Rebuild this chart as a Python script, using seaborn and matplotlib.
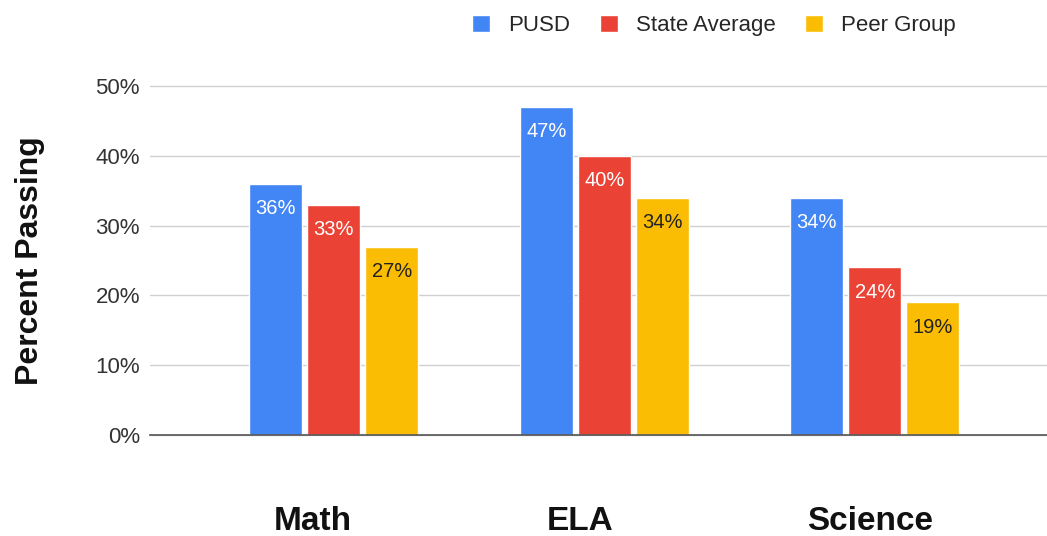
import matplotlib.pyplot as plt
import matplotlib.transforms as mtransforms
import pandas as pd
import seaborn as sns
from matplotlib.patches import Patch
from matplotlib.ticker import PercentFormatter

# Data
subjects = ["Math", "ELA", "Science"]
groups = ["PUSD", "State Average", "Peer Group"]
pusd = [0.36, 0.47, 0.34]
state_avg = [0.33, 0.40, 0.24]
peer_group = [0.27, 0.34, 0.19]

colors = ["#4285F4", "#EA4335", "#FBBC04"]
label_colors = ["white", "white", "#222222"]

df = pd.DataFrame({
    "subject": subjects * 3,
    "group": [g for g in groups for _ in subjects],
    "value": pusd + state_avg + peer_group,
})

sns.set_theme(style="white")
plt.rcParams["font.family"] = ["Liberation Sans", "DejaVu Sans"]

fig = plt.figure(figsize=(10.47, 5.36), dpi=100)
ax = fig.add_axes([0.143, 0.188, 0.857, 0.652])

sns.barplot(data=df, x="subject", y="value", hue="group", order=subjects,
            hue_order=groups, palette=colors, width=0.643, gap=0.086,
            saturation=1, legend=False, ax=ax)

# value labels inside the top of each bar
for container, lc in zip(ax.containers, label_colors):
    ax.bar_label(container, labels=[f"{b.get_height() * 100:.0f}%" for b in container],
                 padding=-25, color=lc, fontsize=14.5)

ax.set_ylim(0, 0.5)
ax.set_xlim(-0.68, 2.636)
ax.yaxis.set_major_formatter(PercentFormatter(1.0, decimals=0))
ax.set_yticks([0, 0.1, 0.2, 0.3, 0.4, 0.5])
ax.grid(axis="y", color="#d0d0d0", linewidth=1)
ax.set_axisbelow(True)
for gl in ax.get_ygridlines():
    gl.set_clip_on(False)
for s in ["left", "right", "top"]:
    ax.spines[s].set_visible(False)
ax.spines["bottom"].set_color("#555555")
ax.spines["bottom"].set_linewidth(1.2)

ax.tick_params(axis="y", length=0, pad=7, labelsize=16, labelcolor="#333333")
ax.tick_params(axis="x", length=0, pad=51)
# category labels sit a little left of the group centres in the original
shifts_px = [-21, -24, -5]
for t, dx in zip(ax.get_xticklabels(), shifts_px):
    t.set_fontsize(24)
    t.set_fontweight("bold")
    t.set_color("#111111")
    t.set_transform(t.get_transform() + mtransforms.ScaledTranslation(dx / 100, 0, fig.dpi_scale_trans))

ax.set_xlabel("")
ax.set_ylabel("Percent Passing", fontsize=23, fontweight="bold", color="#111111")
ax.yaxis.set_label_coords(-0.117, 0.5)

handles = [Patch(facecolor=c, label=g) for c, g in zip(colors, groups)]
fig.legend(handles=handles, loc="center", bbox_to_anchor=(0.682, 0.953), ncol=3,
           frameon=False, fontsize=16, handlelength=0.8, handleheight=0.8,
           handletextpad=0.8, columnspacing=1.35)

fig.savefig("out.png", dpi=100)
